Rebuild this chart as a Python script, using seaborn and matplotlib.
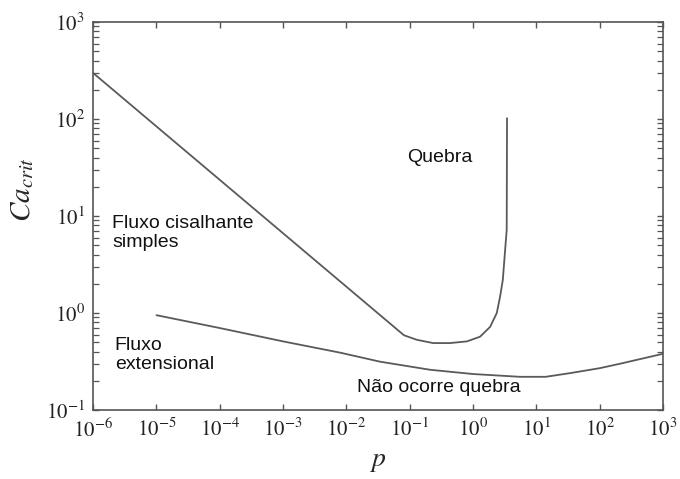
import numpy as np
import pandas as pd
import matplotlib
matplotlib.use("Agg")
import matplotlib.pyplot as plt
import matplotlib.ticker as mticker
import seaborn as sns

# Critical capillary number vs viscosity ratio p
shear_p = [1e-6, 0.081, 0.129, 0.234, 0.43, 0.80, 1.29, 1.86, 2.37, 2.67, 2.95,
           3.21, 3.40, 3.42, 3.44]
shear_ca = [298, 0.59, 0.53, 0.49, 0.49, 0.51, 0.57, 0.72, 1.0, 1.47, 2.19,
            4.46, 7.2, 26, 102]

ext_p = [1e-5, 1e-4, 1e-3, 8e-3, 0.034, 0.21, 1.0, 5.5, 14.0, 34.0, 100.0, 209.0, 1000.0]
ext_ca = [0.95, 0.70, 0.51, 0.39, 0.315, 0.26, 0.235, 0.22, 0.22, 0.24, 0.27, 0.30, 0.38]

region_labels = ["Quebra", "Fluxo cisalhante\nsimples", "Fluxo\nextensional", "Não ocorre quebra"]

sns.set_theme(style="ticks")
plt.rcParams["font.family"] = ["STIXGeneral", "DejaVu Serif"]
plt.rcParams["mathtext.fontset"] = "stix"

fig = plt.figure(figsize=(6.8, 4.79), dpi=100)
ax = fig.add_axes([0.137, 0.144, 0.838, 0.810])

line_color = "#5a5a5a"
shear_df = pd.DataFrame({"p": shear_p, "ca": shear_ca})
ext_df = pd.DataFrame({"p": ext_p, "ca": ext_ca})
sns.lineplot(data=shear_df, x="p", y="ca", ax=ax, color=line_color, lw=1.3,
             sort=False, estimator=None)
sns.lineplot(data=ext_df, x="p", y="ca", ax=ax, color=line_color, lw=1.3,
             sort=False, estimator=None)

ax.set_xscale("log")
ax.set_yscale("log")
ax.set_xlim(1e-6, 1e3)
ax.set_ylim(1e-1, 1e3)

ax.xaxis.set_major_locator(mticker.LogLocator(base=10, numticks=20))
ax.xaxis.set_minor_locator(mticker.NullLocator())
ax.yaxis.set_major_locator(mticker.LogLocator(base=10, numticks=10))
ax.yaxis.set_minor_locator(mticker.LogLocator(base=10, subs=np.arange(2, 10), numticks=10))
ax.yaxis.set_minor_formatter(mticker.NullFormatter())

spine_color = "#555555"
for s in ax.spines.values():
    s.set_visible(True)
    s.set_color(spine_color)
    s.set_linewidth(1.2)
ax.tick_params(which="both", direction="in", top=True, right=True, color=spine_color,
               labelsize=15, labelcolor="#222222")
ax.tick_params(which="major", length=4.5, width=1.0, pad=6)
ax.tick_params(which="minor", length=4, width=0.9)

ax.set_xlabel("$p$", fontsize=20, labelpad=5)
ax.set_ylabel("$Ca_{crit}$", fontsize=21)
ax.yaxis.set_label_coords(-0.10, 0.567)

txt_kw = dict(fontsize=14, family=["Liberation Sans", "DejaVu Sans"], color="#111111",
              transform=ax.transAxes, linespacing=1.15)
ax.text(0.551, 0.652, region_labels[0], ha="left", va="center", **txt_kw)
ax.text(0.033, 0.456, region_labels[1], ha="left", va="center", **txt_kw)
ax.text(0.038, 0.142, region_labels[2], ha="left", va="center", **txt_kw)
ax.text(0.463, 0.057, region_labels[3], ha="left", va="center", **txt_kw)

fig.savefig("out.png", dpi=100)
